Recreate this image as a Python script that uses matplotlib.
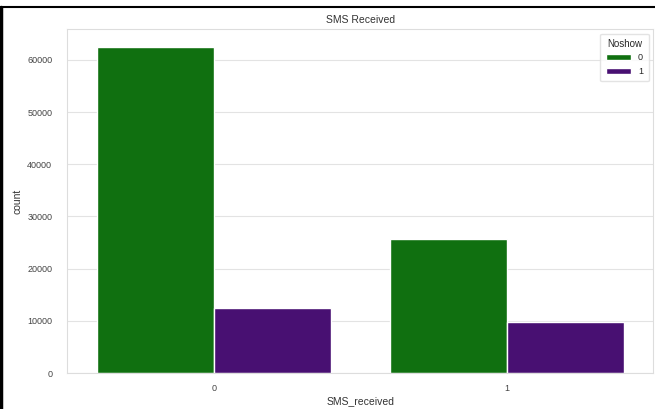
import matplotlib
matplotlib.use("Agg")
import matplotlib.pyplot as plt
import seaborn as sns
import pandas as pd
from matplotlib.lines import Line2D

sms_received = ["0", "0", "1", "1"]
noshow = ["0", "1", "0", "1"]
counts = [62510, 12535, 25698, 9784]

sns.set_theme(style="whitegrid")
plt.rcParams['font.family'] = ['Liberation Sans', 'DejaVu Sans']

df = pd.DataFrame({"SMS_received": sms_received, "Noshow": noshow, "count": counts})

fig = plt.figure(figsize=(6.55, 4.09), dpi=100)
ax = fig.add_axes([0.103, 0.088, 0.894, 0.841])
sns.barplot(data=df, x="SMS_received", y="count", hue="Noshow",
            palette=["green", "indigo"], ax=ax)
ax.set_title("SMS Received", fontsize=7.5, pad=4, color="#333333")
ax.set_xlabel("SMS_received", fontsize=7.5, labelpad=2, color="#333333")
ax.set_ylabel("count", fontsize=7.5, labelpad=3, color="#333333")
ax.tick_params(axis="y", labelsize=6.5, colors="#444444", pad=5)
ax.tick_params(axis="x", labelsize=6.5, colors="#444444", pad=2)
ax.set_ylim(0, 65900)
for s in ax.spines.values():
    s.set_color("#dddddd")
    s.set_linewidth(0.8)
ax.grid(axis="y", color="#e3e3e3", linewidth=0.8)
ax.grid(axis="x", visible=False)
leg = ax.legend(title="Noshow", fontsize=6.5, title_fontsize=7, loc="upper right",
                frameon=True, handlelength=2.8, borderpad=0.6)
leg.get_frame().set_edgecolor("#dddddd")

fig.add_artist(Line2D([0.002, 0.002], [0, 0.983], color="black", linewidth=2.5, transform=fig.transFigure))
fig.add_artist(Line2D([0.0, 1.0], [0.982, 0.982], color="black", linewidth=1.5, transform=fig.transFigure))

fig.savefig("out.png", dpi=100)
